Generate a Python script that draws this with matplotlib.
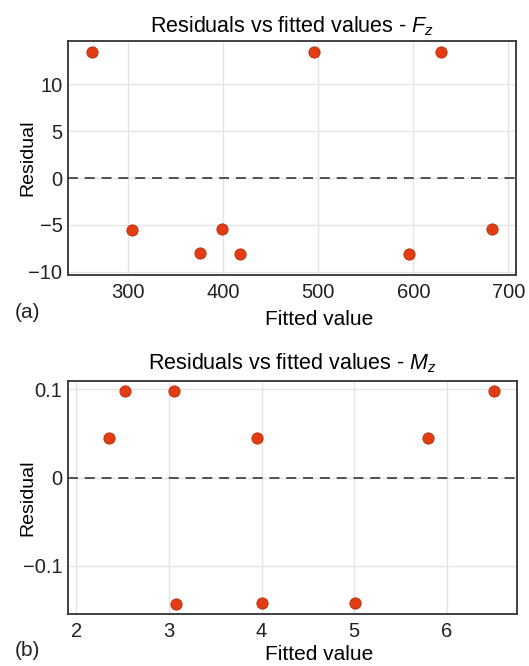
import matplotlib
matplotlib.use('Agg')
import matplotlib.pyplot as plt

plt.rcParams['font.family'] = ['Liberation Sans', 'DejaVu Sans']
plt.rcParams['mathtext.fontset'] = 'custom'
plt.rcParams['mathtext.rm'] = 'Liberation Sans'
plt.rcParams['mathtext.it'] = 'Liberation Sans:italic'

# Panel (a): Fz
fz_fitted = [262, 304, 376, 399, 418, 496, 595, 629, 683]
fz_resid = [13.45, -5.5, -8.0, -5.4, -8.1, 13.45, -8.1, 13.5, -5.45]

# Panel (b): Mz
mz_fitted = [2.35, 2.53, 3.06, 3.08, 3.95, 4.01, 5.01, 5.80, 6.51]
mz_resid = [0.045, 0.0975, 0.0975, -0.1425, 0.045, -0.142, -0.142, 0.045, 0.0975]

dot_color = '#e23c12'
edge_color = '#b8300e'


def panel(ax, x, y, title, xlim, ylim, xticks, yticks, yticklabels, title_pad, xlab_y):
    ax.scatter(x, y, s=66, color=dot_color, edgecolors=edge_color, linewidths=0.6, zorder=3)
    ax.axhline(0, color='#444444', linestyle='--', linewidth=1.3, dashes=(5.5, 3.8), zorder=2)
    ax.set_xlim(*xlim)
    ax.set_ylim(*ylim)
    ax.set_xticks(xticks)
    ax.set_yticks(yticks)
    ax.set_yticklabels(yticklabels)
    ax.grid(True, color='#e4e4e4', linewidth=1.0, zorder=0)
    ax.set_axisbelow(True)
    ax.tick_params(length=0, labelsize=14.5, colors='#222222')
    ax.tick_params(axis='x', pad=6)
    ax.tick_params(axis='y', pad=4)
    for sp in ax.spines.values():
        sp.set_color('#333333')
        sp.set_linewidth(1.3)
    ax.set_title(title, fontsize=15.5, pad=title_pad)
    ax.set_xlabel('Fitted value', fontsize=15)
    ax.xaxis.set_label_coords(0.56, xlab_y)
    ax.set_ylabel('Residual', fontsize=14)
    ax.yaxis.set_label_coords(-0.071, 0.5)


fig = plt.figure(figsize=(5.29, 6.66), dpi=100)
ax1 = fig.add_axes([0.1285, 0.587, 0.847, 0.351])
ax2 = fig.add_axes([0.1285, 0.078, 0.849, 0.35])

panel(ax1, fz_fitted, fz_resid, r'Residuals vs fitted values - $\mathit{F}_{\mathit{z}}$',
      (237, 708), (-10.35, 14.6), [300, 400, 500, 600, 700], [-10, -5, 0, 5, 10],
      ['\u221210', '\u22125', '0', '5', '10'], 6.5, -0.15)
panel(ax2, mz_fitted, mz_resid, r'Residuals vs fitted values - $\mathit{M}_{\mathit{z}}$',
      (1.91, 6.76), (-0.1544, 0.1094), [2, 3, 4, 5, 6], [-0.1, 0, 0.1],
      ['\u22120.1', '0', '0.1'], 8.5, -0.132)

fig.text(15 / 529, 1 - 312 / 666, '(a)', fontsize=15, va='center', ha='left', color='#222222')
fig.text(15 / 529, 1 - 650 / 666, '(b)', fontsize=15, va='center', ha='left', color='#222222')

fig.savefig('out.png', dpi=100)
